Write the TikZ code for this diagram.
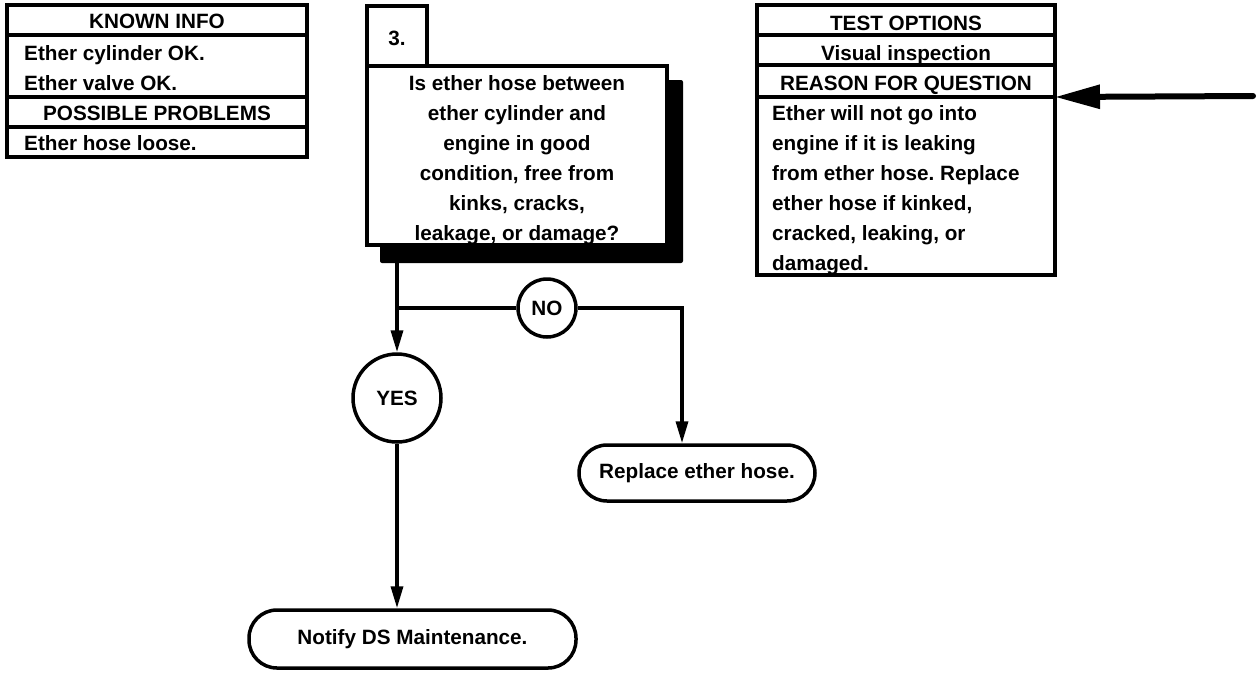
\documentclass[tikz,border=0pt]{standalone}
\usepackage{fontspec}
\setmainfont{Liberation Sans}
\usetikzlibrary{arrows.meta}
\frenchspacing
\begin{document}
\begin{tikzpicture}[x=1pt,y=-1pt,
  cell/.style={draw, line width=3.5pt, fill=white, anchor=north west, outer sep=0pt, inner sep=0pt},
  shadowbox/.style={fill=black, anchor=north west, outer sep=0pt, inner sep=0pt, rounded corners=2pt},
  txt/.style={font=\bfseries\fontsize{20.7}{30}\selectfont, inner sep=0pt, anchor=base},
  txtl/.style={txt, anchor=base west},
  conn/.style={line width=3.5pt},
  flow/.style={conn, -{Triangle[length=22pt,width=12pt]}},
  bigarrow/.style={line width=6pt, line cap=round, -{Triangle[length=45pt,width=23pt]}},
  ans/.style={circle, draw, line width=3.5pt, fill=white, inner sep=0pt, font=\bfseries\fontsize{20.7}{30}\selectfont},
  term/.style={rectangle, rounded corners=28pt, draw, line width=3.5pt, fill=white, inner sep=0pt, font=\bfseries\fontsize{20.7}{30}\selectfont}
]
\useasboundingbox (0,0) rectangle (1259,673);

% ---- KNOWN INFO table
\node[cell, minimum width=300pt, minimum height=30pt] (k1) at (7,5) {};
\node[cell, minimum width=300pt, minimum height=62pt] (k2) at (7,35) {};
\node[cell, minimum width=300pt, minimum height=30pt] (k3) at (7,97) {};
\node[cell, minimum width=300pt, minimum height=30pt] (k4) at (7,127) {};
\node[txt]  (k1t) at (157,28) {KNOWN INFO};
\node[txtl] (k2a) at (24,60) {Ether cylinder OK.};
\node[txtl] (k2b) at (24,90) {Ether valve OK.};
\node[txt]  (k3t) at (157,120) {POSSIBLE PROBLEMS};
\node[txtl] (k4t) at (24,150) {Ether hose loose.};

% ---- Question box
\node[cell, minimum width=60pt, minimum height=60pt] (qn) at (367,6) {};
\node[txt] (qnt) at (397,45) {3.};
\node[shadowbox, minimum width=303pt, minimum height=183pt] (qs) at (380,80) {};
\node[cell, minimum width=300pt, minimum height=179pt] (q) at (367,66) {};
\node[txt] (q1) at (517,90)  {Is ether hose between};
\node[txt] (q2) at (517,120) {ether cylinder and};
\node[txt] (q3) at (517,150) {engine in good};
\node[txt] (q4) at (517,180) {condition, free from};
\node[txt] (q5) at (517,210) {kinks, cracks,};
\node[txt] (q6) at (517,240) {leakage, or damage?};

% ---- TEST OPTIONS table
\node[cell, minimum width=298pt, minimum height=30pt] (t1) at (757,5) {};
\node[cell, minimum width=298pt, minimum height=30pt] (t2) at (757,35) {};
\node[cell, minimum width=298pt, minimum height=32pt] (t3) at (757,65) {};
\node[cell, minimum width=298pt, minimum height=178pt] (t4) at (757,97) {};
\node[txt] (t1t) at (906,30) {TEST OPTIONS};
\node[txt] (t2t) at (906,60) {Visual inspection};
\node[txt] (t3t) at (906,90) {REASON FOR QUESTION};
\node[txtl] (r1) at (772,120) {Ether will not go into};
\node[txtl] (r2) at (772,150) {engine if it is leaking};
\node[txtl] (r3) at (772,180) {from ether hose. Replace};
\node[txtl] (r4) at (772,210) {ether hose if kinked,};
\node[txtl] (r5) at (772,240) {cracked, leaking, or};
\node[txtl] (r6) at (772,270) {damaged.};

\coordinate (src) at (1253,96);
\draw[bigarrow] (src) -- (t4.north east);

% ---- Flow
\node[ans, minimum size=88pt] (yes) at (397,398) {YES};
\node[ans, minimum size=58pt] (no) at (547,308) {NO};
\node[term, minimum width=236pt, minimum height=56pt] (rep) at (697,473) {Replace ether hose.};
\node[term, minimum width=327pt, minimum height=58pt] (ntf) at (412.5,639) {Notify DS Maintenance.};

\draw[flow] (yes |- qs.south) -- (yes.north);
\draw[conn] (no.west) -- (no -| yes);
\draw[flow] (no.east) -| ([xshift=-15pt]rep.north);
\draw[flow] (yes.south) -- (yes.south |- ntf.north);
\end{tikzpicture}
\end{document}
